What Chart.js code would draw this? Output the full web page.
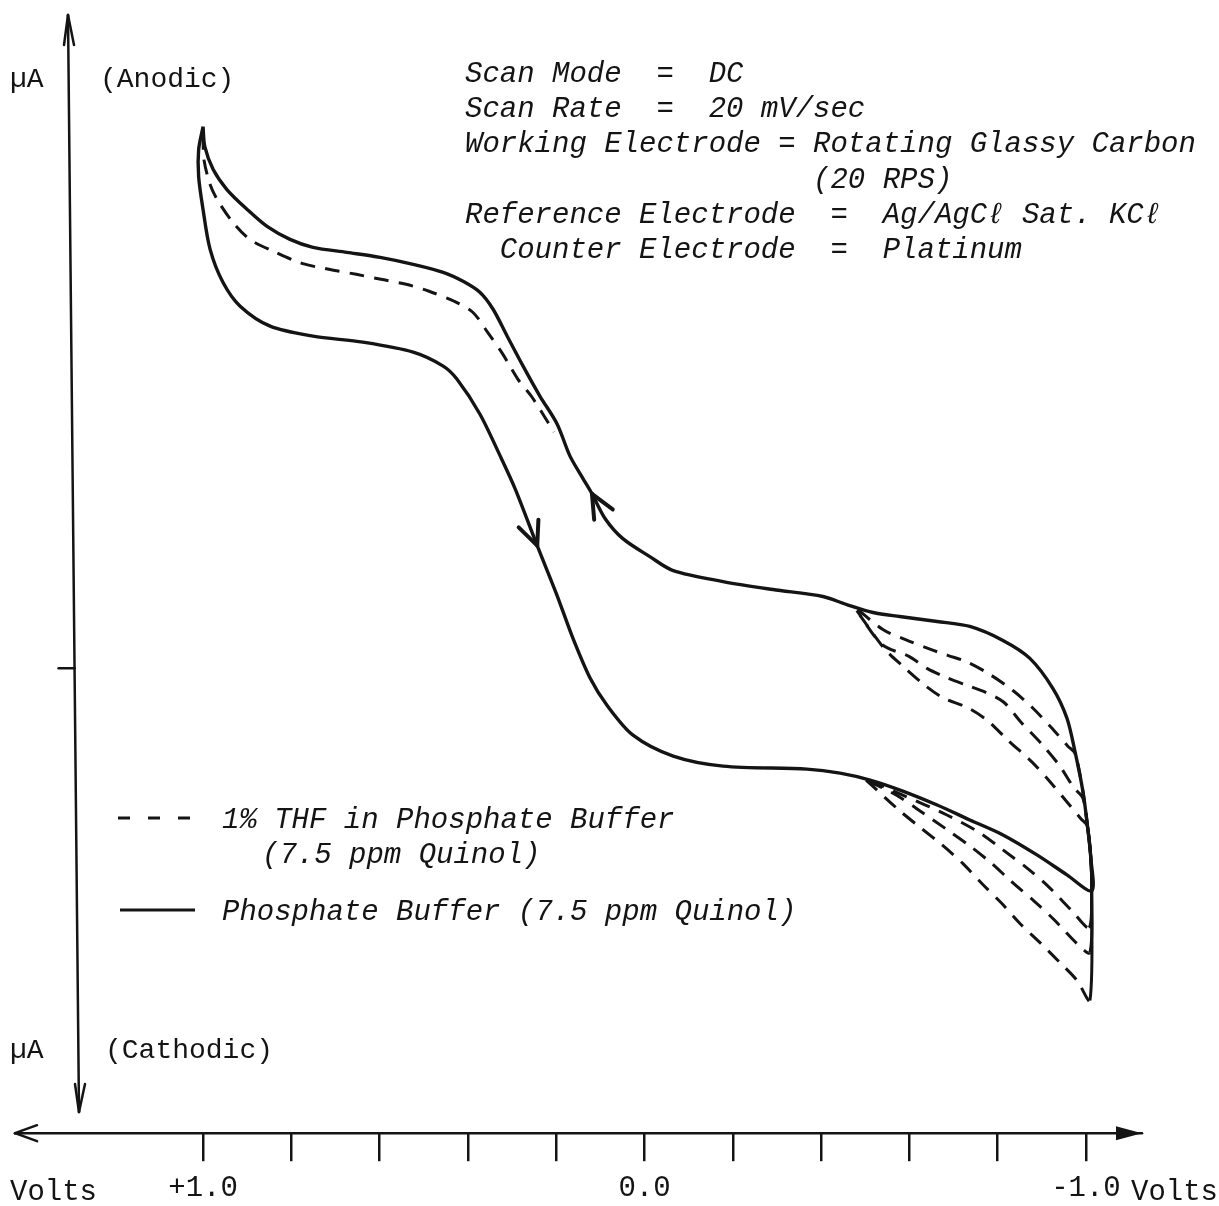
<!DOCTYPE html>
<html>
<head>
<meta charset="utf-8">
<title>Quinol voltammogram</title>
<script src="https://cdn.jsdelivr.net/npm/chart.js@4.4.1/dist/chart.umd.min.js"></script>
<style>
  html, body { margin: 0; padding: 0; background: #fff; }
  #wrap { width: 1219px; height: 1206px; }
</style>
</head>
<body>
<div id="wrap"><canvas id="cv" width="1219" height="1206"></canvas></div>
<script>
// Hydrodynamic voltammogram of quinol, rotating glassy carbon electrode.
// Volts run +1.0 (left) to -1.0 (right). Current is in arbitrary uA units:
// the original only marks zero current, there is no scale on that axis.

// x axis ticks
var tickVolts = [1.0, 0.8, 0.6, 0.4, 0.2, 0.0, -0.2, -0.4, -0.6, -0.8, -1.0];
var tickLabels = ["+1.0", "", "", "", "", "0.0", "", "", "", "", "-1.0"];

// Phosphate buffer, [volts, current]: cathodic sweep (lower branch) out to
// -1.0 V, then the anodic sweep back (upper branch) to +1.0 V.
var bufferScan = [
  [1.00, 10.86], [1.01, 10.40], [1.01, 9.86], [1.00, 9.20], [0.984, 8.40],
  [0.955, 7.74], [0.916, 7.26], [0.848, 6.86], [0.751, 6.66], [0.638, 6.54],
  [0.524, 6.34], [0.456, 6.06], [0.425, 5.80], [0.373, 5.10], [0.327, 4.26],
  [0.293, 3.60], [0.243, 2.46], [0.198, 1.46], [0.162, 0.60], [0.123, -0.20],
  [0.085, -0.74], [0.026, -1.34], [-0.065, -1.76], [-0.178, -1.96], [-0.368, -2.02],
  [-0.443, -2.10], [-0.511, -2.24], [-0.585, -2.46], [-0.663, -2.74], [-0.737, -3.04],
  [-0.812, -3.34], [-0.889, -3.74], [-0.957, -4.14], [-1.013, -4.46],
  [-1.011, -3.80], [-1.004, -3.20], [-0.993, -2.46], [-0.975, -1.66], [-0.957, -1.00],
  [-0.925, -0.40], [-0.873, 0.20], [-0.812, 0.56], [-0.737, 0.84], [-0.663, 0.94],
  [-0.578, 1.04], [-0.518, 1.12], [-0.458, 1.28], [-0.404, 1.44], [-0.291, 1.58],
  [-0.178, 1.74], [-0.065, 1.96], [-0.012, 2.24], [0.049, 2.60], [0.089, 3.00],
  [0.119, 3.50], [0.139, 3.80], [0.169, 4.26], [0.198, 4.90], [0.237, 5.46],
  [0.275, 6.06], [0.311, 6.66], [0.343, 7.20], [0.373, 7.54], [0.411, 7.76],
  [0.456, 7.94], [0.524, 8.10], [0.599, 8.24], [0.674, 8.34], [0.751, 8.44],
  [0.803, 8.60], [0.855, 8.86], [0.900, 9.20], [0.946, 9.60], [0.977, 10.00],
  [0.996, 10.46], [1.00, 10.86]
];
// points of bufferScan that carry the sweep-direction arrows
var sweepArrowAt = [16, 54];

// 1% THF: where it leaves the buffer trace on the anodic branch near +1 V
var thfUpperLeft = [
  [1.00, 10.70], [0.998, 10.20], [0.984, 9.70], [0.968, 9.40], [0.934, 8.96],
  [0.894, 8.60], [0.835, 8.34], [0.776, 8.12], [0.715, 8.00], [0.653, 7.90],
  [0.597, 7.80], [0.540, 7.70], [0.488, 7.56], [0.431, 7.36], [0.389, 7.14],
  [0.354, 6.72], [0.321, 6.30], [0.287, 5.80], [0.255, 5.44], [0.205, 4.74]
];
// 1% THF, three runs near -1 V: cathodic tail, turn at -1 V, anodic return
var thfRun1 = [
  [-0.511, -2.26], [-0.585, -2.54], [-0.685, -2.94], [-0.760, -3.30], [-0.812, -3.64],
  [-0.866, -4.00], [-0.911, -4.34], [-0.968, -4.86], [-1.007, -5.20],
  [-1.013, -4.46], [-1.011, -3.80], [-1.004, -3.20], [-0.993, -2.46],
  [-0.975, -1.70], [-0.959, -1.56], [-0.921, -1.18], [-0.880, -0.80], [-0.834, -0.44],
  [-0.782, -0.12], [-0.733, 0.12], [-0.687, 0.26], [-0.642, 0.40], [-0.590, 0.58],
  [-0.540, 0.78], [-0.472, 1.26]
];
var thfRun2 = [
  [-0.508, -2.26], [-0.574, -2.56], [-0.631, -2.90], [-0.683, -3.22], [-0.737, -3.56],
  [-0.785, -3.90], [-0.832, -4.28], [-0.882, -4.66], [-0.928, -5.04], [-0.980, -5.52],
  [-1.009, -5.70],
  [-1.013, -4.46], [-1.011, -3.80], [-1.004, -3.20],
  [-0.993, -2.60], [-0.973, -2.40], [-0.941, -1.96], [-0.900, -1.52], [-0.853, -1.08],
  [-0.814, -0.68], [-0.773, -0.48], [-0.730, -0.34], [-0.683, -0.18], [-0.640, 0.00],
  [-0.599, 0.24], [-0.538, 0.48], [-0.481, 1.16]
];
var thfRun3 = [
  [-0.502, -2.24], [-0.576, -2.84], [-0.626, -3.20], [-0.674, -3.54], [-0.722, -3.92],
  [-0.767, -4.34], [-0.808, -4.70], [-0.851, -5.12], [-0.896, -5.50], [-0.939, -5.88],
  [-0.980, -6.26], [-1.009, -6.66],
  [-1.013, -4.46], [-1.011, -3.80],
  [-1.003, -3.16], [-0.989, -3.02], [-0.959, -2.70], [-0.923, -2.32], [-0.878, -1.88],
  [-0.823, -1.44], [-0.776, -1.04], [-0.730, -0.78], [-0.678, -0.60], [-0.635, -0.34],
  [-0.583, 0.06], [-0.543, 0.40], [-0.488, 1.06]
];

var conditions = [
  "Scan Mode  =  DC",
  "Scan Rate  =  20 mV/sec",
  "Working Electrode = Rotating Glassy Carbon",
  "                    (20 RPS)",
  "Reference Electrode  =  Ag/AgC\u2113 Sat. KC\u2113",
  "  Counter Electrode  =  Platinum"
];
var legendThf = ["1% THF in Phosphate Buffer", "(7.5 ppm Quinol)"];
var legendBuffer = "Phosphate Buffer (7.5 ppm Quinol)";

var ink = "#141414";
var mono = "'Liberation Mono', 'DejaVu Sans Mono', monospace";
var dash = [15, 10];

function pts(a) {
  return a.map(function (p) { return { x: p[0], y: p[1] }; });
}
// the runs retrace the -1 V turn on top of each other, which reads as solid
function runDash(ctx) {
  return ctx.p0.parsed.x <= -1 && ctx.p1.parsed.x <= -1 ? [] : dash;
}

function line(ctx, x1, y1, x2, y2) {
  ctx.beginPath();
  ctx.moveTo(x1, y1);
  ctx.lineTo(x2, y2);
  ctx.stroke();
}

var decor = {
  id: "decor",
  afterDatasetsDraw: function (chart) {
    var ctx = chart.ctx;
    var pts0 = chart.getDatasetMeta(0).data;
    ctx.save();
    ctx.strokeStyle = ink;
    ctx.lineWidth = 4;
    ctx.lineCap = "round";
    sweepArrowAt.forEach(function (i) {
      var p = pts0[i], a = pts0[i - 1], b = pts0[i + 1];
      var dx = b.x - a.x, dy = b.y - a.y, n = Math.hypot(dx, dy);
      dx /= n; dy /= n;
      [-0.42, 0.42].forEach(function (ang) {
        var c = Math.cos(ang), s = Math.sin(ang);
        var bx = -(dx * c - dy * s), by = -(dx * s + dy * c);
        line(ctx, p.x, p.y, p.x + bx * 26, p.y + by * 26);
      });
    });
    ctx.restore();
  },
  afterDraw: function (chart) {
    var ctx = chart.ctx, a = chart.chartArea, ys = chart.scales.y;
    ctx.save();
    ctx.strokeStyle = ink;
    ctx.fillStyle = ink;
    ctx.lineWidth = 2.5;
    ctx.lineCap = "round";

    // voltage axis, arrows both ways
    var yb = a.bottom;
    line(ctx, a.left, yb, a.right, yb);
    line(ctx, a.left, yb, a.left + 22, yb - 8);
    line(ctx, a.left, yb, a.left + 22, yb + 8);
    ctx.beginPath();
    ctx.moveTo(a.right, yb);
    ctx.lineTo(a.right - 26, yb - 7);
    ctx.lineTo(a.right - 26, yb + 7);
    ctx.closePath();
    ctx.fill();

    // current axis (drawn slightly skewed, as in the original)
    var xT = 68, yT = 15, xB = 79, yB = 1112;
    line(ctx, xT, yT, xB, yB);
    line(ctx, xT, yT, xT - 4, yT + 30);
    line(ctx, xT, yT, xT + 6, yT + 30);
    line(ctx, xB, yB, xB - 4, yB - 28);
    line(ctx, xB, yB, xB + 6, yB - 28);
    // zero-current mark
    var y0 = ys.getPixelForValue(0);
    var x0 = xT + (xB - xT) * (y0 - yT) / (yB - yT);
    line(ctx, x0 - 16, y0, x0, y0);

    // upright labels
    ctx.font = "28px " + mono;
    ctx.textBaseline = "alphabetic";
    ctx.fillText("\u00b5A", 10, 87);
    ctx.fillText("(Anodic)", 100, 87);
    ctx.fillText("\u00b5A", 10, 1058);
    ctx.fillText("(Cathodic)", 105, 1058);
    ctx.font = "29px " + mono;
    ctx.fillText("Volts", 10, 1200);
    ctx.fillText("Volts", 1131, 1200);

    // run conditions
    ctx.font = "italic 29px " + mono;
    conditions.forEach(function (t, i) {
      ctx.fillText(t, 465, 82 + i * 35.2);
    });

    // legend
    ctx.fillText(legendThf[0], 222, 828);
    ctx.fillText(legendThf[1], 262, 863);
    ctx.fillText(legendBuffer, 222, 920);
    ctx.lineWidth = 3;
    ctx.lineCap = "butt";
    ctx.setLineDash([12, 18]);
    line(ctx, 118, 818, 190, 818);
    ctx.setLineDash([]);
    line(ctx, 120, 910, 195, 910);
    ctx.restore();
  }
};

var thfStyle = { borderDash: dash, borderWidth: 3 };

new Chart(document.getElementById("cv"), {
  type: "scatter",
  data: {
    datasets: [
      { label: legendBuffer, data: pts(bufferScan), borderWidth: 3.4 },
      Object.assign({ label: legendThf[0], data: pts(thfUpperLeft) }, thfStyle),
      Object.assign({ label: "THF run 1", data: pts(thfRun1), segment: { borderDash: runDash } }, thfStyle),
      Object.assign({ label: "THF run 2", data: pts(thfRun2), segment: { borderDash: runDash } }, thfStyle),
      Object.assign({ label: "THF run 3", data: pts(thfRun3), segment: { borderDash: runDash } }, thfStyle)
    ]
  },
  options: {
    responsive: false,
    animation: false,
    devicePixelRatio: 1,
    layout: { padding: { left: 15, right: 77, top: 0, bottom: -10 } },
    elements: {
      point: { radius: 0, hoverRadius: 0 },
      line: { borderColor: ink, tension: 0.3, fill: false, borderJoinStyle: "round", borderCapStyle: "butt" }
    },
    datasets: { scatter: { showLine: true } },
    plugins: { legend: { display: false }, tooltip: { enabled: false } },
    scales: {
      x: {
        type: "linear",
        reverse: true,
        min: -1.127,
        max: 1.426,
        afterBuildTicks: function (s) {
          s.ticks = tickVolts.map(function (v) { return { value: v }; });
        },
        grid: { drawOnChartArea: false, drawTicks: true, tickLength: 28, color: ink, lineWidth: 2.5 },
        border: { display: false },
        ticks: {
          autoSkip: false,
          maxRotation: 0,
          padding: 10,
          color: ink,
          font: { family: mono, size: 29 },
          callback: function (v) {
            for (var i = 0; i < tickVolts.length; i++) {
              if (Math.abs(tickVolts[i] - v) < 1e-6) return tickLabels[i];
            }
            return "";
          }
        }
      },
      y: { display: false, min: -9.32, max: 13.4 }
    }
  },
  plugins: [decor]
});
</script>
</body>
</html>
